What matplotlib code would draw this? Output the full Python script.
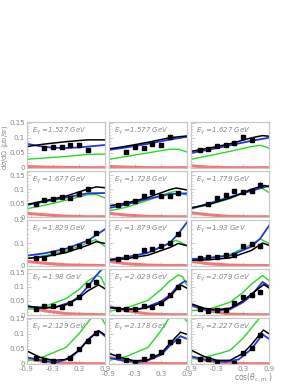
import matplotlib
matplotlib.use("Agg")
import matplotlib.pyplot as plt
from matplotlib.ticker import MultipleLocator, FixedLocator

energies = ["1.527", "1.577", "1.627", "1.677", "1.728", "1.779", "1.829", "1.879",
            "1.93", "1.98", "2.029", "2.079", "2.129", "2.178", "2.227"]
row_ymax = [0.152, 0.165, 0.2, 0.163, 0.152]

data_x = [
    [-0.5, -0.3, -0.1, 0.1, 0.3, 0.5],
    [-0.5, -0.3, -0.1, 0.1, 0.3, 0.5],
    [-0.7, -0.5, -0.3, -0.1, 0.1, 0.3, 0.5],
    [-0.7, -0.5, -0.3, -0.1, 0.1, 0.3, 0.5],
    [-0.7, -0.5, -0.3, -0.1, 0.1, 0.3, 0.5, 0.7],
    [-0.5, -0.3, -0.1, 0.1, 0.3, 0.5, 0.7],
    [-0.7, -0.5, -0.3, -0.1, 0.1, 0.3, 0.5, 0.7],
    [-0.7, -0.5, -0.3, -0.1, 0.1, 0.3, 0.5, 0.7],
    [-0.7, -0.5, -0.3, -0.1, 0.1, 0.3, 0.5, 0.7],
    [-0.7, -0.5, -0.3, -0.1, 0.1, 0.3, 0.5, 0.7],
    [-0.7, -0.5, -0.3, -0.1, 0.1, 0.3, 0.5, 0.7],
    [-0.7, -0.5, -0.3, -0.1, 0.1, 0.3, 0.5, 0.7],
    [-0.7, -0.5, -0.3, 0.1, 0.3, 0.5, 0.7],
    [-0.7, -0.5, -0.3, -0.1, 0.1, 0.3, 0.5, 0.7],
    [-0.7, -0.5, -0.3, 0.1, 0.3, 0.5, 0.7],
]
data_y = [
    [0.065, 0.068, 0.070, 0.075, 0.076, 0.060],
    [0.052, 0.070, 0.066, 0.080, 0.077, 0.103],
    [0.061, 0.062, 0.074, 0.075, 0.081, 0.103, 0.094],
    [0.045, 0.062, 0.064, 0.072, 0.068, 0.084, 0.100],
    [0.042, 0.051, 0.058, 0.077, 0.088, 0.075, 0.075, 0.085],
    [0.045, 0.068, 0.080, 0.093, 0.090, 0.094, 0.115],
    [0.035, 0.033, 0.055, 0.070, 0.077, 0.085, 0.110, 0.145],
    [0.032, 0.040, 0.044, 0.070, 0.073, 0.085, 0.102, 0.140],
    [0.035, 0.040, 0.037, 0.047, 0.050, 0.085, 0.095, 0.085],
    [0.023, 0.032, 0.032, 0.030, 0.041, 0.064, 0.105, 0.118],
    [0.020, 0.020, 0.022, 0.031, 0.027, 0.044, 0.070, 0.100],
    [0.023, 0.014, 0.017, 0.019, 0.043, 0.064, 0.070, 0.081],
    [0.020, 0.014, 0.009, 0.020, 0.050, 0.075, 0.104],
    [0.025, 0.012, 0.008, 0.015, 0.025, 0.040, 0.074, 0.075],
    [0.015, 0.017, 0.008, 0.0035, 0.038, 0.054, 0.096],
]
data_err = [
    [0.006, 0.006, 0.005, 0.005, 0.005, 0.007],
    [0.006, 0.005, 0.005, 0.005, 0.006, 0.008],
    [0.005, 0.005, 0.005, 0.005, 0.005, 0.006, 0.008],
    [0.005, 0.005, 0.005, 0.005, 0.005, 0.006, 0.008],
    [0.005, 0.005, 0.005, 0.005, 0.006, 0.006, 0.007, 0.009],
    [0.005, 0.005, 0.005, 0.006, 0.006, 0.008, 0.015],
    [0.005, 0.005, 0.005, 0.005, 0.006, 0.007, 0.008, 0.010],
    [0.005, 0.005, 0.005, 0.005, 0.006, 0.007, 0.008, 0.010],
    [0.005, 0.005, 0.005, 0.005, 0.006, 0.007, 0.008, 0.010],
    [0.004, 0.004, 0.004, 0.004, 0.005, 0.006, 0.008, 0.010],
    [0.004, 0.004, 0.004, 0.004, 0.005, 0.006, 0.008, 0.010],
    [0.004, 0.004, 0.004, 0.004, 0.005, 0.006, 0.008, 0.010],
    [0.004, 0.004, 0.004, 0.005, 0.006, 0.008, 0.010],
    [0.004, 0.004, 0.004, 0.004, 0.005, 0.006, 0.008, 0.010],
    [0.004, 0.004, 0.004, 0.004, 0.006, 0.008, 0.010],
]

black_x = [
    [-0.9, -0.5, 0, 0.5, 0.9],
    [-0.9, -0.5, 0, 0.5, 0.9],
    [-0.9, -0.5, 0, 0.5, 0.75, 0.9],
    [-0.9, -0.5, 0, 0.5, 0.7, 0.9],
    [-0.9, -0.5, 0, 0.5, 0.65, 0.9],
    [-0.9, -0.5, 0, 0.5, 0.8, 0.9],
    [-0.9, -0.5, 0, 0.5, 0.7, 0.9],
    [-0.9, -0.5, 0, 0.5, 0.7, 0.9],
    [-0.9, -0.5, 0, 0.5, 0.75, 0.9],
    [-0.9, -0.6, -0.3, 0, 0.3, 0.5, 0.75, 0.9],
    [-0.9, -0.5, -0.2, 0, 0.3, 0.5, 0.75, 0.9],
    [-0.9, -0.6, -0.3, 0, 0.3, 0.5, 0.78, 0.9],
    [-0.9, -0.6, -0.3, 0, 0.3, 0.5, 0.75, 0.9],
    [-0.9, -0.6, -0.3, 0, 0.3, 0.5, 0.75, 0.9],
    [-0.9, -0.6, -0.3, 0, 0.3, 0.5, 0.77, 0.9],
]
black_y = [
    [0.071, 0.079, 0.087, 0.093, 0.093],
    [0.063, 0.072, 0.085, 0.100, 0.106],
    [0.055, 0.065, 0.080, 0.100, 0.107, 0.105],
    [0.045, 0.058, 0.075, 0.100, 0.108, 0.105],
    [0.040, 0.050, 0.070, 0.098, 0.104, 0.097],
    [0.033, 0.045, 0.068, 0.100, 0.113, 0.108],
    [0.033, 0.040, 0.058, 0.090, 0.106, 0.098],
    [0.025, 0.032, 0.047, 0.080, 0.098, 0.088],
    [0.025, 0.027, 0.035, 0.068, 0.100, 0.090],
    [0.032, 0.025, 0.026, 0.036, 0.060, 0.085, 0.107, 0.093],
    [0.026, 0.020, 0.021, 0.027, 0.042, 0.064, 0.107, 0.095],
    [0.040, 0.024, 0.019, 0.024, 0.050, 0.075, 0.108, 0.096],
    [0.043, 0.022, 0.012, 0.015, 0.045, 0.078, 0.110, 0.096],
    [0.035, 0.020, 0.010, 0.014, 0.035, 0.067, 0.105, 0.098],
    [0.046, 0.025, 0.012, 0.012, 0.035, 0.065, 0.112, 0.100],
]
blue_x = [
    [-0.9, -0.6, -0.3, 0, 0.3, 0.6, 0.9],
    [-0.9, -0.5, 0, 0.5, 0.9],
    [-0.9, -0.5, 0, 0.5, 0.9],
    [-0.9, -0.5, 0, 0.5, 0.9],
    [-0.9, -0.5, 0, 0.5, 0.9],
    [-0.9, -0.5, 0, 0.5, 0.9],
    [-0.9, -0.5, 0, 0.5, 0.9],
    [-0.9, -0.5, 0, 0.5, 0.7, 0.9],
    [-0.9, -0.5, 0, 0.5, 0.7, 0.9],
    [-0.9, -0.5, -0.2, 0.1, 0.3, 0.5, 0.7, 0.9],
    [-0.9, -0.5, -0.2, 0, 0.3, 0.5, 0.7, 0.85, 0.9],
    [-0.9, -0.6, -0.3, 0, 0.3, 0.5, 0.75, 0.9],
    [-0.9, -0.5, -0.2, 0.1, 0.3, 0.5, 0.75, 0.9],
    [-0.9, -0.5, -0.2, 0, 0.3, 0.5, 0.75, 0.9],
    [-0.9, -0.5, -0.1, 0.2, 0.5, 0.75, 0.9],
]
blue_y = [
    [0.080, 0.072, 0.067, 0.066, 0.068, 0.072, 0.076],
    [0.060, 0.068, 0.080, 0.094, 0.103],
    [0.050, 0.060, 0.075, 0.090, 0.100],
    [0.043, 0.055, 0.070, 0.085, 0.086],
    [0.032, 0.045, 0.065, 0.082, 0.085],
    [0.030, 0.048, 0.072, 0.094, 0.112],
    [0.045, 0.055, 0.075, 0.110, 0.160],
    [0.028, 0.038, 0.058, 0.100, 0.140, 0.190],
    [0.030, 0.035, 0.045, 0.085, 0.120, 0.175],
    [0.030, 0.026, 0.030, 0.045, 0.065, 0.100, 0.140, 0.175],
    [0.028, 0.020, 0.022, 0.030, 0.048, 0.070, 0.105, 0.120, 0.118],
    [0.035, 0.020, 0.016, 0.020, 0.045, 0.070, 0.117, 0.102],
    [0.022, 0.010, 0.006, 0.020, 0.045, 0.080, 0.110, 0.092],
    [0.020, 0.010, 0.007, 0.012, 0.030, 0.060, 0.092, 0.083],
    [0.025, 0.012, 0.007, 0.015, 0.050, 0.098, 0.083],
]
green_x = [
    [-0.9, 0, 0.5, 0.9],
    [-0.9, -0.5, 0, 0.5, 0.7, 0.9],
    [-0.9, -0.5, 0, 0.5, 0.7, 0.9],
    [-0.9, -0.5, 0, 0.5, 0.7, 0.9],
    [-0.9, -0.5, 0, 0.5, 0.65, 0.9],
    [-0.9, -0.5, 0, 0.5, 0.7, 0.9],
    [-0.9, -0.5, 0, 0.5, 0.68, 0.9],
    [-0.9, -0.5, 0, 0.4, 0.65, 0.9],
    [-0.9, -0.5, 0, 0.4, 0.7, 0.9],
    [-0.9, -0.5, 0, 0.3, 0.5, 0.7, 0.8, 0.9],
    [-0.9, -0.5, 0, 0.3, 0.5, 0.7, 0.8, 0.9],
    [-0.9, -0.5, 0, 0.3, 0.5, 0.75, 0.9],
    [-0.9, -0.5, 0, 0.3, 0.6, 0.75, 0.9],
    [-0.9, -0.5, 0, 0.3, 0.5, 0.7, 0.9],
    [-0.9, -0.5, 0, 0.3, 0.5, 0.7, 0.9],
]
green_y = [
    [0.029, 0.038, 0.045, 0.046],
    [0.029, 0.038, 0.050, 0.062, 0.062, 0.053],
    [0.029, 0.040, 0.055, 0.071, 0.075, 0.066],
    [0.030, 0.042, 0.060, 0.080, 0.081, 0.068],
    [0.022, 0.035, 0.060, 0.088, 0.092, 0.078],
    [0.030, 0.043, 0.066, 0.097, 0.107, 0.088],
    [0.033, 0.045, 0.065, 0.100, 0.115, 0.085],
    [0.027, 0.037, 0.057, 0.090, 0.112, 0.090],
    [0.028, 0.035, 0.050, 0.085, 0.117, 0.098],
    [0.020, 0.030, 0.058, 0.090, 0.120, 0.140, 0.135, 0.105],
    [0.013, 0.025, 0.052, 0.090, 0.120, 0.142, 0.135, 0.105],
    [0.015, 0.020, 0.045, 0.080, 0.110, 0.140, 0.122],
    [0.012, 0.025, 0.055, 0.100, 0.155, 0.170, 0.132],
    [0.012, 0.025, 0.055, 0.110, 0.155, 0.180, 0.140],
    [0.017, 0.025, 0.045, 0.085, 0.120, 0.155, 0.200],
]
red_x = [-0.9, -0.5, 0, 0.5, 0.9]
red_y = [
    [0.005, 0.003, 0.002, 0.001, 0.001],
    [0.005, 0.003, 0.001, 0.001, 0.001],
    [0.007, 0.003, 0.001, 0.001, 0.001],
    [0.013, 0.008, 0.003, 0.001, 0.001],
    [0.013, 0.007, 0.002, 0.001, 0.001],
    [0.015, 0.008, 0.002, 0.001, 0.001],
    [0.020, 0.012, 0.005, 0.003, 0.002],
    [0.020, 0.010, 0.004, 0.002, 0.002],
    [0.020, 0.010, 0.004, 0.002, 0.002],
    [0.028, 0.015, 0.005, 0.002, 0.001],
    [0.030, 0.015, 0.004, 0.001, 0.001],
    [0.035, 0.015, 0.003, 0.001, 0.001],
    [0.017, 0.008, 0.003, 0.001, 0.001],
    [0.022, 0.010, 0.003, 0.001, 0.001],
    [0.023, 0.010, 0.003, 0.001, 0.001],
]

W, H = 298, 385
fig = plt.figure(figsize=(W / 100, H / 100), dpi=100)
col_left = [27, 109, 191]
row_top = [122, 171, 220, 269, 318]
pw, ph = 78, 46
frame_col = "#c8c8c8"
txt_col = "#888888"

for i, e in enumerate(energies):
    r, c = divmod(i, 3)
    ax = fig.add_axes([col_left[c] / W, 1 - (row_top[r] + ph) / H, pw / W, ph / H])
    ax.set_xlim(-0.9, 0.9)
    ax.set_ylim(0, row_ymax[r])
    ax.plot(red_x, red_y[i], color="#f06060", lw=2.2, alpha=0.85, solid_capstyle="butt")
    ax.plot(green_x[i], green_y[i], color="#22dd22", lw=1.0)
    ax.plot(blue_x[i], blue_y[i], color="#2233ee", lw=1.3)
    ax.plot(black_x[i], black_y[i], color="black", lw=1.1)
    ax.errorbar(data_x[i], data_y[i], yerr=data_err[i], fmt="s", ms=2.6,
                color="black", ecolor="#999999", elinewidth=0.6, capsize=0)
    ax.text(0.07, 0.93, r"E$_{\gamma}$ =" + e + " GeV", transform=ax.transAxes,
            fontsize=5, color=txt_col, style="italic", va="top", ha="left")
    for s in ax.spines.values():
        s.set_color(frame_col)
        s.set_linewidth(0.9)
    ax.xaxis.set_major_locator(FixedLocator([-0.9, -0.3, 0.3, 0.9]))
    ax.xaxis.set_minor_locator(MultipleLocator(0.2))
    if r == 2:
        ax.yaxis.set_major_locator(MultipleLocator(0.1))
        ax.yaxis.set_minor_locator(MultipleLocator(0.02))
    else:
        ax.yaxis.set_major_locator(MultipleLocator(0.05))
        ax.yaxis.set_minor_locator(MultipleLocator(0.01))
    ax.tick_params(which="both", direction="in", colors=frame_col, labelcolor=txt_col,
                   labelsize=5, pad=1.5)
    ax.tick_params(which="major", length=3, width=0.6)
    ax.tick_params(which="minor", length=1.5, width=0.5)
    if c == 1:
        ax.tick_params(axis="x", which="major", pad=5)
    if c != 0:
        ax.set_yticklabels([])
    else:
        ax.set_yticklabels([("%g" % v) for v in ax.get_yticks()])
    if r != 4:
        ax.set_xticklabels([])
    else:
        ax.set_xticklabels(["-0.9", "-0.3", "0.3", "0.9"])

fig.text(5.5 / W, 1 - 147 / H, r"d$\sigma$/d$\Omega$ ($\mu$b/sr)", rotation=90,
         fontsize=4.8, color=txt_col, ha="center", va="center")
fig.text(273 / W, 1 - 378 / H, r"cos($\theta_{c.m.}$)", fontsize=5.5,
         color=txt_col, ha="right", va="center")

fig.savefig("out.png", dpi=100)
